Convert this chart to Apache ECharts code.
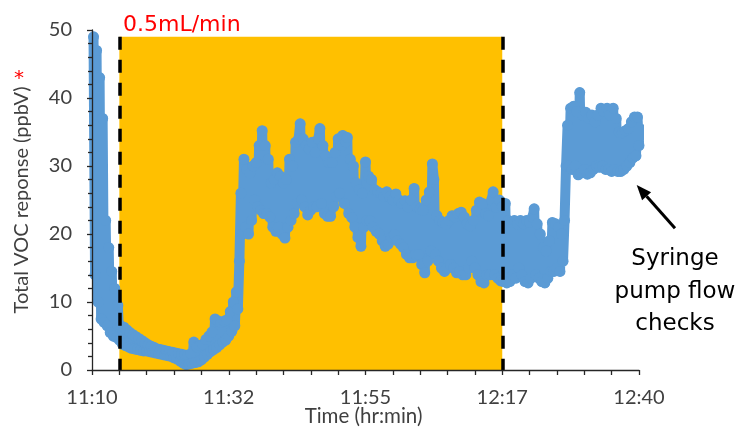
<!DOCTYPE html>
<html>
<head>
<meta charset="utf-8">
<script src="https://cdn.jsdelivr.net/npm/echarts@6/dist/echarts.min.js"></script>
<style>
  html, body { margin: 0; padding: 0; background: #ffffff; }
  #chart { width: 738px; height: 427px; }
</style>
</head>
<body>
<div id="chart"></div>
<script>
// Minutes after 11:10 of the first reading, and the logger's sampling step (min)
const sampleStart = 0.25;
const sampleStep = 0.25;

// Total VOC response (ppbV), one reading per sample
const vocPpbv = [
  49, 14, 47, 10, 43, 7.5, 37, 7, 22, 6.5,
  18, 5.5, 14.5, 5, 12, 4.8, 9.5, 4.4, 6.5, 3.8,
  6.3, 3.6, 5.9, 3.4, 5.5, 3.2, 5.2, 3.1, 4.9, 3.0,
  4.6, 2.9, 4.3, 2.8, 4.0, 2.8, 3.7, 2.7, 3.5, 2.6,
  3.3, 2.5, 3.1, 2.4, 3.0, 2.3, 2.9, 2.2, 2.8, 2.1,
  2.7, 2.0, 2.6, 1.8, 2.5, 1.6, 2.4, 1.3, 2.3, 1.0,
  2.2, 0.8, 2.1, 0.9, 2.4, 1.0, 4.1, 1.1, 3.4, 1.2,
  3.6, 1.5, 3.8, 1.9, 4.5, 2.3, 5.0, 2.7, 5.6, 3.0,
  7.5, 3.3, 7.2, 3.7, 7.0, 4.1, 7.2, 4.4, 7.4, 5.0,
  8.6, 5.7, 10.0, 6.5, 11.5, 9, 16, 26, 20, 31,
  21, 29.5, 20, 29, 22, 30, 25, 30.5, 24, 33,
  23.5, 35.2, 23, 33, 23, 31, 22.5, 27.5, 21, 28,
  20.4, 29, 21, 28.5, 20, 27.5, 19.4, 28, 21, 31,
  22, 30, 23, 33.5, 24.5, 34, 36.2, 25, 34, 24,
  33, 22.8, 32.5, 23.5, 33.5, 24, 32, 24, 34, 35.5,
  24.5, 33, 23, 31.5, 22.6, 30.5, 22.6, 30.5, 24, 32,
  25.5, 34, 26, 33, 34.5, 24.5, 33.5, 34.2, 23, 31,
  22.4, 30, 21, 27.5, 19.5, 26.5, 18.2, 26, 21, 30.6,
  22, 28.5, 21.9, 28, 21, 26.5, 20.4, 26.2, 20, 26,
  19, 25.5, 18.2, 26.2, 18.5, 25.5, 19.5, 25, 19.9, 25.9,
  19, 25, 18.5, 24.5, 18, 24.9, 17, 24, 16.5, 25,
  16.5, 26.7, 17, 24, 17, 23.7, 15.5, 23.5, 14.3, 25,
  16, 26.2, 17.5, 30.3, 28, 17, 22.7, 16, 22, 15,
  21.7, 14.5, 21.5, 15, 22, 15.5, 22.7, 15, 22.5, 14.3,
  23, 14.5, 23.2, 14, 22.5, 14, 21.5, 15, 21.2, 16,
  22, 15, 23.5, 14, 24.7, 13, 24.5, 12.8, 23, 14,
  22.7, 14, 25, 26.2, 14, 24, 13.5, 25, 13.1, 24,
  13, 24.5, 12.8, 22, 13, 21.7, 14, 22, 13.5, 21.5,
  15, 22, 14, 21.5, 13, 22, 12.8, 21.7, 13.5, 22.5,
  23.7, 14, 21.5, 13.5, 20, 13, 18, 12.8, 17.5, 13.5,
  19, 14.5, 21.7, 14.5, 21.5, 15, 21, 14.5, 20, 16,
  22, 30, 36, 30, 38.5, 29.5, 38.8, 30, 38, 28.7,
  40.8, 29, 37.5, 29.5, 37.9, 28.8, 37, 29, 37.5, 29.5,
  36.5, 30, 37.5, 29.8, 38.5, 30, 38, 29.5, 38.5, 29.5,
  37.5, 29.2, 38.5, 29.5, 37, 29.2, 35, 29.2, 34.9, 29.5,
  35.2, 30, 35.5, 30.5, 36.5, 31.2, 37.2, 31.5, 37.2, 33,
  35.5, 34.5
];

// Time-axis tick labels (hr:min), one per 22.5-minute major tick
const timeTickLabels = ['11:10', '11:32', '11:55', '12:17', '12:40'];
const timeTickStep = 22.5;

// Injection window (minutes after 11:10) and the height of the shaded band (ppbV)
const injectionStart = 4.5;
const injectionEnd = 67.5;
const injectionTop = 49;

const points = vocPpbv.map((v, i) => [sampleStart + i * sampleStep, v]);

const BLUE = '#5B9BD5';
const ORANGE = '#FFC000';
const AXIS = '#262626';
const LABEL = '#404040';
const TICK_FONT = 'Lato';

const chart = echarts.init(document.getElementById('chart'), null, { renderer: 'canvas' });

chart.setOption({
  animation: false,
  backgroundColor: '#ffffff',
  grid: { left: 92, right: 99, top: 30, bottom: 57 },
  xAxis: {
    type: 'value',
    min: 0,
    max: timeTickStep * (timeTickLabels.length - 1),
    interval: timeTickStep,
    z: 10,
    axisLine: { lineStyle: { color: AXIS, width: 1.3 } },
    axisTick: { show: true, length: 5, lineStyle: { color: AXIS, width: 1.3 } },
    minorTick: { show: true, splitNumber: 5, length: 5, lineStyle: { color: AXIS, width: 1.3 } },
    splitLine: { show: false },
    axisLabel: {
      formatter: v => timeTickLabels[Math.round(v / timeTickStep)],
      color: LABEL, fontFamily: TICK_FONT, fontSize: 20, margin: 18
    }
  },
  yAxis: {
    type: 'value',
    min: 0,
    max: 50,
    interval: 10,
    z: 10,
    axisLine: { show: true, lineStyle: { color: AXIS, width: 1.3 } },
    axisTick: { show: true, length: 5, lineStyle: { color: AXIS, width: 1.3 } },
    minorTick: { show: true, splitNumber: 5, length: 4, lineStyle: { color: AXIS, width: 1.3 } },
    splitLine: { show: false },
    axisLabel: { color: LABEL, fontFamily: TICK_FONT, fontSize: 20, margin: 20 }
  },
  series: [
    {
      // shaded injection window
      type: 'line',
      data: [],
      z: 1,
      silent: true,
      markArea: {
        silent: true,
        itemStyle: { color: ORANGE },
        data: [[
          { coord: [injectionStart, 0] },
          { coord: [injectionEnd, injectionTop] }
        ]]
      }
    },
    {
      // VOC readings: dense overlapping markers
      type: 'line',
      data: points,
      z: 3,
      silent: true,
      symbol: 'circle',
      symbolSize: 11,
      showAllSymbol: true,
      lineStyle: { color: BLUE, width: 10, cap: 'round', join: 'round' },
      itemStyle: { color: BLUE }
    },
    {
      // dashed start/end markers of the injection
      type: 'line',
      data: [],
      z: 5,
      silent: true,
      markLine: {
        silent: true,
        symbol: 'none',
        label: { show: false },
        lineStyle: { color: '#000000', width: 3.5, type: [13, 10] },
        data: [
          [{ coord: [injectionStart, injectionTop] }, { coord: [injectionStart, 0] }],
          [{ coord: [injectionEnd, injectionTop] }, { coord: [injectionEnd, 0] }]
        ]
      }
    }
  ],
  graphic: [
    {
      type: 'text', x: 22, y: 200, rotation: Math.PI / 2, silent: true,
      style: {
        text: 'Total VOC reponse (ppbV)', fill: LABEL,
        fontFamily: TICK_FONT, fontSize: 20, align: 'center', verticalAlign: 'middle'
      }
    },
    {
      type: 'text', x: 19, y: 79, silent: true,
      style: { text: '*', fill: '#FF0000', fontFamily: 'DejaVu Sans', fontSize: 20, align: 'center', verticalAlign: 'middle' }
    },
    {
      type: 'text', x: 363.5, y: 416, silent: true,
      style: {
        text: 'Time (hr:min)', fill: LABEL,
        fontFamily: TICK_FONT, fontSize: 20.5, align: 'center', verticalAlign: 'middle'
      }
    },
    {
      type: 'text', x: 123, y: 25, silent: true,
      style: { text: '0.5mL/min', fill: '#FF0000', fontFamily: 'DejaVu Sans', fontSize: 22, align: 'left', verticalAlign: 'middle' }
    },
    {
      type: 'text', x: 367.5, y: 344, silent: true,
      style: { text: '60min of injection', fill: '#000000', fontFamily: 'DejaVu Sans', fontWeight: 'bold', fontSize: 20.5, align: 'center', verticalAlign: 'middle' }
    },
    {
      type: 'text', x: 675, y: 292, silent: true,
      style: {
        text: 'Syringe\npump flow\nchecks', fill: '#000000',
        fontFamily: 'DejaVu Sans', fontSize: 23, lineHeight: 32.5, align: 'center', verticalAlign: 'middle'
      }
    },
    {
      type: 'line', silent: true,
      shape: { x1: 675, y1: 228.3, x2: 646.6, y2: 196.2 },
      style: { stroke: '#000000', lineWidth: 3 }
    },
    {
      type: 'polygon', silent: true,
      shape: { points: [[636.7, 185], [651.1, 192.2], [642.1, 200.2]] },
      style: { fill: '#000000' }
    }
  ]
});
</script>
</body>
</html>
